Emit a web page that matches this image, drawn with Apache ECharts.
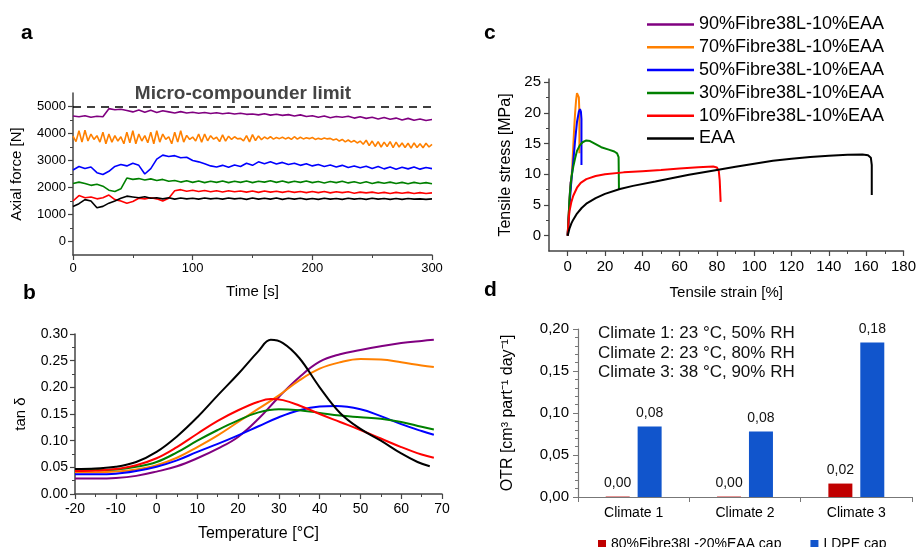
<!DOCTYPE html>
<html>
<head>
<meta charset="utf-8">
<script src="https://cdn.jsdelivr.net/npm/echarts@6/dist/echarts.min.js"></script>
<style>
html,body{margin:0;padding:0;background:#fff;}
#main{width:919px;height:547px;}
</style>
</head>
<body>
<div id="main"></div>
<script>
// ---------- shared names / colours ----------
const seriesNames = ['90%Fibre38L-10%EAA','70%Fibre38L-10%EAA','50%Fibre38L-10%EAA','30%Fibre38L-10%EAA','10%Fibre38L-10%EAA','EAA'];
const seriesColors = ['#800080','#ff8000','#0000ff','#008000','#ff0000','#000000'];

// ---------- panel a : axial force vs time ----------
const timeStepA = 5;        // s between samples
const timeStepOrange = 2.5; // s between samples (orange trace)
const forceLimit = 5000;
const forcePurple = [4650,4620,4660,4600,4640,4620,4920,4880,4900,4850,4800,4870,4790,4860,4780,4840,4800,4760,4810,4760,
  4790,4750,4780,4740,4770,4730,4760,4720,4750,4710,4720,4690,4730,4680,4710,4670,4700,4650,4690,4630,
  4660,4600,4650,4580,4630,4600,4640,4570,4620,4560,4600,4540,4590,4530,4570,4500,4560,4490,4540,4480,4520];
const forceOrange = [3900,3700,4100,3680,4120,3720,3980,3780,3920,
  3680,4050,3620,3980,3680,3920,3720,3880,
  3620,4050,3660,4100,3620,3980,3720,3920,
  3660,4050,3620,4100,3680,3980,3780,3880,
  3620,4050,3680,4100,3680,3930,3780,3870,
  3720,3980,3680,3980,3730,3920,3790,3860,
  3700,3950,3720,3900,3780,3880,3800,3820,
  3730,3920,3690,3960,3740,3910,3770,3870,
  3800,3880,3790,3850,3810,3860,3800,3850,
  3780,3880,3790,3860,3800,3840,3810,3850,
  3780,3820,3790,3830,3800,3820,3760,3800,
  3720,3780,3690,3760,3680,3740,3650,3720,
  3600,3750,3550,3720,3520,3700,3500,3680,
  3520,3700,3480,3680,3500,3650,3480,3640,
  3460,3650,3480,3620,3470,3640,3500,3600];
const forceBlue = [2650,2780,2700,2760,2550,2480,2600,2780,2850,2800,2900,2820,2500,2700,3050,3200,3150,3180,3100,3120,
  3000,2950,2880,2800,2760,2820,2750,2830,2780,2900,2820,2950,2880,2950,2870,2930,2850,2900,2820,2880,
  2800,2850,2780,2830,2760,2820,2740,2800,2730,2790,2700,2780,2690,2760,2680,2750,2690,2760,2680,2740,2700];
const forceGreen = [2150,2200,2150,2080,2120,2050,1900,1850,1950,2350,2300,2330,2280,2320,2260,2300,2230,2260,2200,2250,
  2190,2240,2180,2230,2190,2240,2180,2230,2190,2240,2180,2230,2200,2250,2190,2240,2180,2230,2190,2240,
  2180,2220,2170,2220,2180,2230,2170,2210,2160,2210,2150,2200,2160,2200,2150,2190,2140,2190,2150,2180,2140];
const forceRed = [1500,1700,1620,1650,1580,1620,1720,1550,1500,1420,1480,1600,1580,1620,1580,1500,1600,1880,1920,1860,
  1900,1850,1890,1840,1880,1830,1880,1840,1870,1830,1870,1820,1870,1830,1860,1820,1860,1820,1850,1810,
  1850,1810,1850,1800,1840,1810,1840,1790,1830,1800,1830,1790,1820,1780,1820,1790,1820,1780,1810,1780,1800];
const forceBlack = [1300,1400,1550,1500,1250,1300,1420,1500,1600,1680,1650,1620,1660,1600,1620,1580,1620,1570,1610,1580,
  1600,1570,1610,1580,1600,1570,1610,1580,1600,1560,1610,1570,1600,1570,1610,1560,1600,1570,1600,1560,
  1590,1560,1600,1570,1590,1560,1600,1570,1590,1560,1600,1570,1590,1560,1590,1560,1590,1570,1580,1560,1580];

// ---------- panel b : tan delta vs temperature [T, tanδ] ----------
const tanPurple = [[-20,0.029],[-15,0.029],[-10,0.030],[-5,0.034],[0,0.042],[5,0.052],[10,0.067],[15,0.085],[20,0.107],[25,0.141],[30,0.182],[35,0.219],[40,0.248],[45,0.262],[50,0.270],[55,0.277],[60,0.283],[65,0.287],[68,0.289]];
const tanOrange = [[-20,0.041],[-15,0.041],[-10,0.042],[-5,0.046],[0,0.054],[5,0.068],[10,0.088],[15,0.110],[20,0.135],[25,0.160],[30,0.185],[35,0.213],[40,0.235],[45,0.247],[50,0.253],[55,0.252],[60,0.247],[65,0.241],[68,0.238]];
const tanBlue = [[-20,0.037],[-15,0.037],[-10,0.038],[-5,0.043],[0,0.051],[5,0.063],[10,0.079],[15,0.094],[20,0.110],[25,0.127],[30,0.144],[35,0.157],[40,0.164],[44,0.165],[50,0.159],[55,0.146],[60,0.131],[65,0.118],[68,0.111]];
const tanGreen = [[-20,0.045],[-15,0.045],[-10,0.046],[-5,0.051],[0,0.060],[5,0.078],[10,0.100],[15,0.120],[20,0.138],[25,0.153],[30,0.159],[35,0.157],[40,0.152],[45,0.147],[50,0.144],[55,0.141],[60,0.135],[65,0.126],[68,0.121]];
const tanRed = [[-20,0.043],[-15,0.044],[-10,0.047],[-5,0.054],[0,0.067],[5,0.088],[10,0.113],[15,0.137],[20,0.157],[25,0.173],[28,0.178],[31,0.176],[35,0.166],[40,0.150],[45,0.135],[50,0.120],[55,0.104],[60,0.088],[65,0.074],[68,0.068]];
const tanBlack = [[-20,0.047],[-15,0.048],[-10,0.051],[-5,0.060],[0,0.079],[5,0.108],[10,0.144],[15,0.185],[20,0.225],[25,0.268],[28,0.289],[31,0.283],[35,0.255],[40,0.200],[45,0.152],[50,0.122],[55,0.100],[60,0.076],[64,0.060],[67,0.052]];

// ---------- panel c : stress vs strain [strain %, stress MPa] ----------
const ssPurple = [[0,0],[0.5,3],[1,6],[1.6,8.8]];
const ssOrange = [[0,0],[0.5,3],[1,5.5],[1.5,7.5],[2,9],[2.5,11.5],[3,14.5],[3.5,17.5],[4,20],[4.5,22],[5,23.2],[5.5,23.4],[6,22.5],[6.3,20],[6.3,13.4]];
const ssBlue = [[0,0],[0.5,2.5],[1,5],[1.5,7],[2,9],[3,12],[4,15.5],[5,18.5],[6,20.2],[6.6,20.6],[7.1,20.2],[7.4,19],[7.4,11.5]];
const ssGreen = [[0,0],[0.5,3],[1,6],[1.5,8],[2,9.5],[3,11.2],[4,12.6],[5,13.8],[6.5,14.7],[8,15.2],[10,15.5],[12,15.4],[15,14.9],[18,14.4],[22,14.0],[25,13.7],[26.5,13.4],[27.3,12.8],[27.5,7.5]];
const ssRed = [[0,0],[0.5,2.5],[1,4],[2,5.5],[3,6.5],[5,7.8],[7,8.6],[10,9.2],[15,9.7],[20,10.0],[30,10.3],[40,10.5],[50,10.7],[60,10.95],[70,11.15],[78,11.25],[80,11.1],[81,10.5],[81.5,9],[82,5.5]];
const ssBlack = [[0,0],[1,1.2],[2,2.0],[3,2.6],[5,3.6],[7.5,4.5],[10,5.2],[15,6.1],[20,6.8],[28,7.6],[35,8.1],[47,8.8],[55,9.3],[65,9.9],[80,10.7],[90,11.2],[100,11.7],[110,12.2],[120,12.5],[130,12.8],[140,13.0],[150,13.15],[158,13.2],[161,13.1],[162.5,12.7],[163,11.5],[163,6.6]];
const strainTicks = [0,20,40,60,80,100,120,140,160,180];
const strainMinorTicks = [10,30,50,70,90,110,130,150,170];
const stressTicks = [0,5,10,15,20,25];
const stressMinorTicks = [2.5,7.5,12.5,17.5,22.5];
const forceTicks = [0,1000,2000,3000,4000,5000];
const forceMinorTicks = [500,1500,2500,3500,4500];

// ---------- panel d : OTR ----------
const climates = ['Climate 1','Climate 2','Climate 3'];
const otrFibre = [0.0005,0.0005,0.016];
const otrLDPE = [0.084,0.078,0.184];
const barNames = ['80%Fibre38L-20%EAA cap','LDPE cap'];
const barColors = ['#c00000','#1155cc'];
const climateNotes = ['Climate 1: 23 °C, 50% RH','Climate 2: 23 °C, 80% RH','Climate 3: 38 °C, 90% RH'];

// ---------- build ----------
const FF = 'Arial, "Liberation Sans", Helvetica, sans-serif';
const axisCol = '#444';
function lineAxisBase(extra){
  return Object.assign({
    axisLine:{show:true,onZero:false,lineStyle:{color:axisCol,width:1.5}},
    axisTick:{show:true,length:5,lineStyle:{color:axisCol,width:1.2}},
    splitLine:{show:false},
    axisLabel:{color:'#000',fontFamily:FF},
    nameTextStyle:{color:'#000',fontFamily:FF}
  }, extra);
}
function minorOverlay(gridIndex, position, min, max, vals){
  return {type:'value',gridIndex,position,min,max,
    axisLine:{show:false,onZero:false},axisLabel:{show:false},splitLine:{show:false},
    axisTick:{show:true,length:3,customValues:vals,lineStyle:{color:axisCol,width:1}}};
}
const toPairs = (arr, step) => arr.map((v,i)=>[i*step, v]);
const forceSets = [forcePurple, forceOrange, forceBlue, forceGreen, forceRed, forceBlack];
const forceSteps = [timeStepA, timeStepOrange, timeStepA, timeStepA, timeStepA, timeStepA];
const tanSets = [tanPurple, tanOrange, tanBlue, tanGreen, tanRed, tanBlack];
const ssSets = [ssPurple, ssOrange, ssBlue, ssGreen, ssRed, ssBlack];

const series = [];
forceSets.forEach((arr,k)=>{
  const s = {type:'line',name:seriesNames[k],xAxisIndex:0,yAxisIndex:0,showSymbol:false,
    data:toPairs(arr,forceSteps[k]),lineStyle:{color:seriesColors[k],width:1.6},itemStyle:{color:seriesColors[k]},silent:true};
  if(k===0){
    s.markLine = {symbol:'none',silent:true,label:{show:false},
      lineStyle:{color:'#000',type:[8,6],width:1.5},data:[{yAxis:forceLimit}]};
  }
  series.push(s);
});
tanSets.forEach((arr,k)=>{
  series.push({type:'line',name:seriesNames[k],xAxisIndex:1,yAxisIndex:2,showSymbol:false,smooth:0.4,
    data:arr,lineStyle:{color:seriesColors[k],width:2},itemStyle:{color:seriesColors[k]},silent:true});
});
ssSets.forEach((arr,k)=>{
  series.push({type:'line',name:seriesNames[k],xAxisIndex:2,yAxisIndex:3,showSymbol:false,
    data:arr,lineStyle:{color:seriesColors[k],width:2},itemStyle:{color:seriesColors[k]},silent:true});
});
const fmtComma = v => v.toFixed(2).replace('.',',');
[otrFibre, otrLDPE].forEach((arr,k)=>{
  series.push({type:'bar',name:barNames[k],xAxisIndex:4,yAxisIndex:5,data:arr,barWidth:24,barGap:'33%',
    itemStyle:{color:barColors[k]},silent:true,
    label:{show:true,position:'top',distance:6,fontSize:14,color:'#111',fontFamily:FF,formatter:p=>fmtComma(p.value)}});
});

const option = {
  animation:false,
  backgroundColor:'#fff',
  textStyle:{fontFamily:FF},
  grid:[
    {left:73,top:93,width:359,height:162},
    {left:75,top:334,width:367,height:160},
    {left:549,top:79,width:356,height:172},
    {left:578,top:329,width:334,height:168}
  ],
  legend:[
    {data:seriesNames,orient:'vertical',left:642,top:9,itemWidth:47,itemHeight:2.5,icon:'rect',itemGap:1.8,
      selectedMode:false,textStyle:{fontSize:18,color:'#000',fontFamily:FF,lineHeight:21}},
    {data:barNames,orient:'horizontal',left:593,top:532,itemWidth:8,itemHeight:8,icon:'rect',itemGap:29,
      selectedMode:false,textStyle:{fontSize:14,color:'#000',fontFamily:FF}}
  ],
  xAxis:[
    lineAxisBase({type:'value',gridIndex:0,min:0,max:300,interval:100,position:'bottom',
      minorTick:{show:true,splitNumber:2,length:3,lineStyle:{color:axisCol}},
      axisLabel:{color:'#000',fontFamily:FF,fontSize:13,margin:7,formatter:v=>String(v)},
      name:'Time [s]',nameLocation:'middle',nameGap:29,nameTextStyle:{fontSize:15,color:'#000',fontFamily:FF}}),
    lineAxisBase({type:'value',gridIndex:1,min:-20,max:70,interval:10,position:'bottom',
      minorTick:{show:true,splitNumber:2,length:3,lineStyle:{color:axisCol}},
      axisLabel:{color:'#000',fontFamily:FF,fontSize:14,margin:8,formatter:v=>String(v)},
      name:'Temperature [°C]',nameLocation:'middle',nameGap:32,nameTextStyle:{fontSize:16,color:'#000',fontFamily:FF}}),
    lineAxisBase({type:'value',gridIndex:2,min:-10,max:180,position:'bottom',
      axisTick:{show:true,length:5,customValues:strainTicks,lineStyle:{color:axisCol,width:1.2}},
      axisLabel:{color:'#000',fontFamily:FF,fontSize:15,margin:8,customValues:strainTicks,formatter:v=>String(v)},
      name:'Tensile strain [%]',nameLocation:'middle',nameGap:34,nameTextStyle:{fontSize:15,color:'#000',fontFamily:FF}}),
    minorOverlay(2,'bottom',-10,180,strainMinorTicks),
    {type:'category',gridIndex:3,data:climates,position:'bottom',
      axisLine:{show:true,onZero:false,lineStyle:{color:'#777',width:1.2}},
      axisTick:{show:true,length:5,lineStyle:{color:'#777'}},
      axisLabel:{color:'#000',fontFamily:FF,fontSize:14,margin:9}}
  ],
  yAxis:[
    lineAxisBase({type:'value',gridIndex:0,min:-500,max:5500,position:'left',
      axisTick:{show:true,length:5,customValues:forceTicks,lineStyle:{color:axisCol,width:1.2}},
      axisLabel:{color:'#000',fontFamily:FF,fontSize:13,margin:7,customValues:forceTicks,formatter:v=>String(v)},
      name:'Axial force [N]',nameLocation:'middle',nameGap:49,nameTextStyle:{fontSize:15,color:'#000',fontFamily:FF}}),
    minorOverlay(0,'left',-500,5500,forceMinorTicks),
    lineAxisBase({type:'value',gridIndex:1,min:0,max:0.3,interval:0.05,position:'left',
      minorTick:{show:true,splitNumber:2,length:3,lineStyle:{color:axisCol}},
      axisLabel:{color:'#000',fontFamily:FF,fontSize:14,margin:7,formatter:v=>v.toFixed(2)},
      name:'tan δ',nameLocation:'middle',nameGap:47,nameTextStyle:{fontSize:15,color:'#000',fontFamily:FF}}),
    lineAxisBase({type:'value',gridIndex:2,min:-2.5,max:25.5,position:'left',
      axisTick:{show:true,length:5,customValues:stressTicks,lineStyle:{color:axisCol,width:1.2}},
      axisLabel:{color:'#000',fontFamily:FF,fontSize:15,margin:8,customValues:stressTicks,formatter:v=>String(v)},
      name:'Tensile stress [MPa]',nameLocation:'middle',nameGap:35,nameTextStyle:{fontSize:16,color:'#000',fontFamily:FF}}),
    minorOverlay(2,'left',-2.5,25.5,stressMinorTicks),
    {type:'value',gridIndex:3,min:0,max:0.2,interval:0.05,position:'left',
      axisLine:{show:true,onZero:false,lineStyle:{color:'#777',width:1.2}},
      axisTick:{show:true,length:5,lineStyle:{color:'#777'}},
      minorTick:{show:true,splitNumber:5,length:3,lineStyle:{color:'#777'}},
      splitLine:{show:false},
      axisLabel:{color:'#000',fontFamily:FF,fontSize:15,margin:9,formatter:fmtComma},
      name:'OTR [cm³ part⁻¹ day⁻¹]',nameLocation:'middle',nameGap:62,nameTextStyle:{fontSize:16,color:'#000',fontFamily:FF}}
  ],
  graphic:[
    {type:'text',left:21,top:23,style:{text:'a',font:'bold 21px '+FF,fill:'#000'}},
    {type:'text',left:23,top:283,style:{text:'b',font:'bold 21px '+FF,fill:'#000'}},
    {type:'text',left:484,top:23,style:{text:'c',font:'bold 21px '+FF,fill:'#000'}},
    {type:'text',left:484,top:280,style:{text:'d',font:'bold 21px '+FF,fill:'#000'}},
    {type:'text',style:{text:'Micro-compounder limit',x:243,y:94,align:'center',verticalAlign:'middle',font:'bold 19px '+FF,fill:'#444'}},
    {type:'text',style:{text:climateNotes.join('\n'),x:598,y:324,align:'left',verticalAlign:'top',font:'17px '+FF,lineHeight:19.5,fill:'#111'}}
  ],
  series
};
const chart = echarts.init(document.getElementById('main'),null,{renderer:'canvas'});
chart.setOption(option);
</script>
</body>
</html>
